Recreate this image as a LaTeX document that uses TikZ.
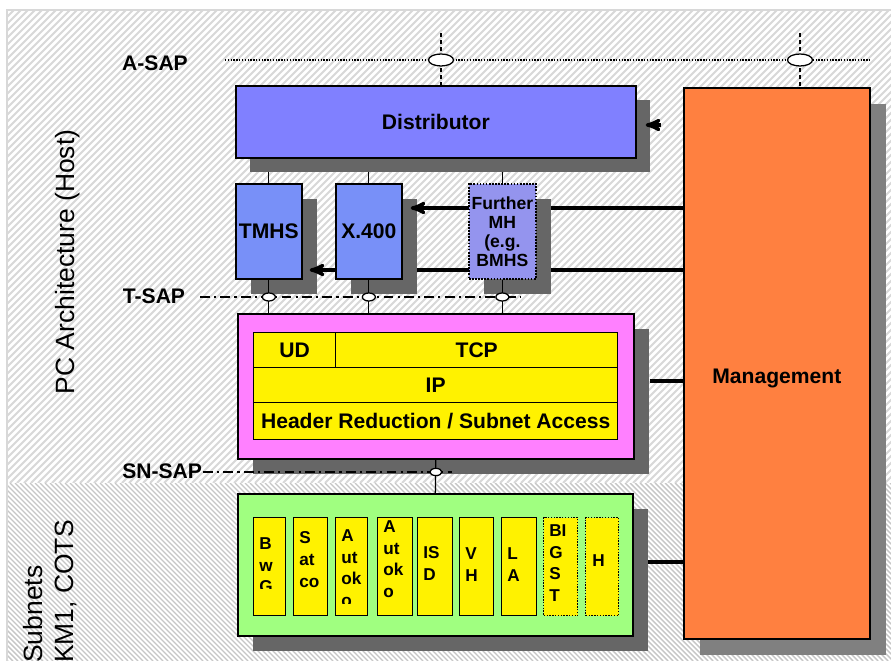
\documentclass[tikz,border=0pt]{standalone}
\usepackage{fontspec}
\setmainfont{Liberation Sans}
\usetikzlibrary{arrows,shapes.geometric,shadows}

\definecolor{distblue}{HTML}{8080FF}
\definecolor{mhblue}{HTML}{7890F8}
\definecolor{furtherblue}{HTML}{9494EE}
\definecolor{mgmtorange}{HTML}{FF8040}
\definecolor{tlpink}{HTML}{FF80FF}
\definecolor{subgreen}{HTML}{A0FF80}
\definecolor{shadegrey}{HTML}{666666}
\definecolor{mgmtgrey}{HTML}{808080}
\definecolor{hatchlight}{HTML}{D8D8D8}
\definecolor{hatchdark}{HTML}{C6C6C6}

\begin{document}
\begin{tikzpicture}[x=0.025cm,y=-0.025cm,>=stealth',
  block/.style 2 args={draw,line width=1.2pt,anchor=north west,inner sep=0pt,
    minimum width=(#1)*0.025cm,minimum height=(#2)*0.025cm,
    font=\bfseries\fontsize{15}{18}\selectfont},
  boxshadow/.style={drop shadow={shadow xshift=#1*0.025cm,shadow yshift=-#1*0.025cm,
    draw=none,fill=shadegrey,opacity=1}},
  layer/.style 2 args={block={#1}{#2},fill=yellow,line width=1pt},
  subbox/.style 2 args={block={#1}{#2},fill=yellow,line width=1pt},
  subtxt/.style={font=\bfseries\fontsize{12.2}{15.6}\selectfont,anchor=north west,
    inner sep=0pt,align=left},
  saplabel/.style={font=\bfseries\fontsize{15}{18}\selectfont,inner sep=0pt},
  sidelabel/.style={font=\fontsize{18.8}{22}\selectfont,inner sep=0pt,rotate=90},
  every label/.style={font=\bfseries\fontsize{15}{18}\selectfont},
  flow/.style={->,line width=2.4pt},
  link/.style={line width=2.4pt},
  wire/.style={line width=0.9pt},
  aline/.style={densely dotted,line width=1pt},
  avert/.style={densely dashed,line width=1pt},
  tline/.style={dash pattern=on 7pt off 3pt on 1.5pt off 3pt,line width=0.9pt},
  ring/.style={ellipse,draw,fill=white,line width=0.9pt,inner sep=0pt}]

\useasboundingbox (0,0) rectangle (891,661);

% hatched background, host part and subnet part
\begin{scope}
  \clip (7,10) rectangle (891,483);
  \fill[white] (7,10) rectangle (891,483);
  \foreach \k in {-480,-473,...,891}
    \draw[hatchlight,line width=1.4pt] (\k,483) -- ++(473,-473);
\end{scope}
\begin{scope}
  \clip (7,483) rectangle (891,661);
  \fill[white] (7,483) rectangle (891,661);
  \foreach \k in {-180,-175,...,891}
    \draw[hatchdark,line width=1pt] (\k,483) -- ++(178,178);
\end{scope}
\draw[hatchlight,line width=1.5pt] (7,661) |- (891,10);

% side labels
\node[sidelabel] (pc) at (68,262) {PC Architecture (Host)};
\node[sidelabel,anchor=west,align=left] (subnets) at (50,663) {Subnets\\KM1, COTS};

\node[saplabel] (asap) at (155,63) {A-SAP};
\node[saplabel] (tsap) at (154,296) {T-SAP};
\node[saplabel,anchor=west] (snsap) at (122,471) {SN-SAP};

% management and distributor
\node[block={186}{551},fill=mgmtorange,
  drop shadow={shadow xshift=0.4cm,shadow yshift=-0.4cm,draw=none,fill=mgmtgrey,opacity=1},
  label={[yshift=-0.375cm]center:Management}] (mgmt) at (683,87) {};
\node[block={400}{72},fill=distblue,boxshadow=14] (dist) at (235,85) {Distributor};

% A-SAP
\coordinate (asapL) at (225,60);
\coordinate (asapR) at (870,60);
\coordinate (sap1) at (441,60);
\coordinate (sap2) at (800,60);
\draw[aline] (asapL) -- (asapR);
\draw[avert] (sap1 |- 0,33) -- (sap1 |- dist.north);
\draw[avert] (sap2 |- 0,33) -- (sap2 |- mgmt.north);
\node[ring,minimum width=0.625cm,minimum height=0.3cm] (ring1) at (sap1) {};
\node[ring,minimum width=0.625cm,minimum height=0.3cm] (ring2) at (sap2) {};

\draw[flow,shorten <=0.55cm,shorten >=0.225cm] (mgmt.west |- 0,125) -- (dist.east |- 0,125);

% message handling
\node[block={66}{95},fill=mhblue,boxshadow=15] (tmhs) at (235,183) {TMHS};
\draw[flow,shorten >=0.175cm] (mgmt.west |- 0,270) -- (tmhs.east |- 0,270);
\node[block={66}{95},fill=mhblue,boxshadow=15] (x400) at (335,183) {X.400};
\draw[flow,shorten >=0.2cm] (mgmt.west |- 0,208) -- (x400.east |- 0,208);
\node[block={67}{95},fill=furtherblue,densely dotted,boxshadow=15,align=center,
  font=\bfseries\fontsize{12.5}{13.5}\selectfont] (further) at (468,183)
  {Further\\MH\\(e.g.\\BMHS};

% transport layer
\node[block={396}{145},fill=tlpink,boxshadow=15] (tl) at (237,313) {};
\node[layer={82}{35}] (ud) at (253,332) {UD};
\node[layer={282}{35}] (tcp) at (335,332) {TCP};
\node[layer={364}{35}] (ip) at (253,367) {IP};
\node[layer={364}{37}] (hr) at (253,402) {Header Reduction / Subnet Access};

% subnets
\node[block={395}{142},fill=subgreen,boxshadow=15] (sn) at (237,493) {};
\foreach \xa/\xb/\tp/\bt/\txt [count=\i] in {253/285/537/588/{B\\w\\G},
  293/327/531/615/{S\\at\\co}, 335/367/529/603/{A\\ut\\ok\\o},
  377/412/520/604/{A\\ut\\ok\\o}, 417/452/546/615/{IS\\D},
  459/493/547/615/{V\\H}, 501/536/547/615/{L\\A}} {
  \node[subbox={\xb-\xa}{98}] (sub\i) at (\xa,517) {};
  \begin{scope}
    \clip (\xa,517) rectangle (\xb,\bt);
    \node[subtxt] (subtxt\i) at (\xa+6,\tp) {\txt};
  \end{scope}
}
\node[subbox={34}{98},densely dotted] (sub8) at (543,517) {};
\node[subtxt] (subtxt8) at (549,524) {BI\\G\\S\\T};
\node[subbox={33}{98},densely dotted] (sub9) at (585,517) {};
\node[subtxt] (subtxt9) at (592,554) {H};

% links to management
\draw[link,shorten <=0.375cm] (tl.east |- 0,381) -- (mgmt.west |- 0,381);
\draw[link,shorten <=0.35cm] (sn.east |- 0,562) -- (mgmt.west |- 0,562);

% T-SAP
\coordinate (tsapL) at (200,297);
\coordinate (tsapR) at (521,297);
\draw[tline] (tsapL) -- (tsapR);
\foreach \n in {tmhs,x400,further} {
  \draw[wire,shorten <=0.325cm] (\n.north |- dist.south) -- (\n.north);
  \draw[wire] (\n.south) -- (\n.south |- tl.north);
  \node[ring,minimum width=0.325cm,minimum height=0.2cm] (ring-\n) at (\n.south |- tsapL) {};
}

% SN-SAP
\coordinate (snL) at (203,472);
\coordinate (snR) at (452,472);
\draw[tline] (snL) -- (snR);
\draw[wire] (tl.south) -- (sn.north);
\node[ring,minimum width=0.3cm,minimum height=0.18cm] (ring-sn) at (tl.south |- snL) {};
\end{tikzpicture}
\end{document}
